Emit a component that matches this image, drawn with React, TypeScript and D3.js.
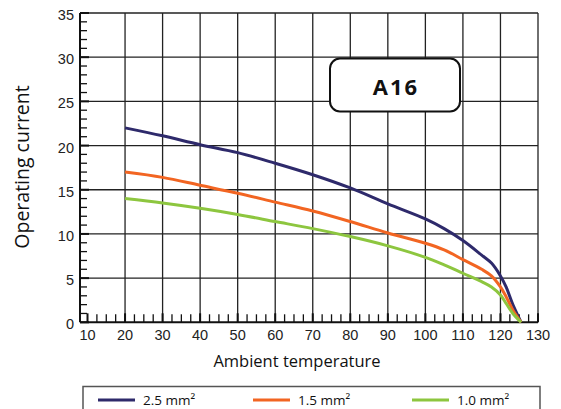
import React from "react";
import * as d3 from "d3";

const temps = [20, 30, 40, 50, 60, 70, 80, 90, 100, 105, 110, 115, 117.6, 120, 121.5, 123.3, 125.5];
const vals25 = [22, 21.1, 20.1, 19.2, 18.0, 16.7, 15.2, 13.4, 11.7, 10.6, 9.25, 7.6, 6.7, 5.25, 4.0, 2.0, 0];
const vals15 = [17, 16.4, 15.5, 14.6, 13.6, 12.6, 11.4, 10.1, 8.95, 8.2, 7.1, 6.0, 5.25, 4.0, 2.9, 1.4, 0];
const vals10 = [14, 13.5, 12.9, 12.2, 11.4, 10.6, 9.7, 8.65, 7.35, 6.5, 5.55, 4.6, 4.0, 3.1, 2.15, 1.0, 0];

const seriesNames = ["2.5 mm²", "1.5 mm²", "1.0 mm²"];
const seriesColors = ["#2e2a6b", "#f26522", "#8dc63f"];
const xTicks = [10, 20, 30, 40, 50, 60, 70, 80, 90, 100, 110, 120, 130];
const yTicks = [0, 5, 10, 15, 20, 25, 30, 35];
const badge = "A16";

export default function App() {
  const x = d3.scaleLinear().domain([8, 130]).range([80, 538]);
  const y = d3.scaleLinear().domain([0, 35]).range([322.3, 13]);
  const line = d3
    .line<[number, number]>()
    .x((d) => x(d[0]))
    .y((d) => y(d[1]))
    .curve(d3.curveCatmullRom.alpha(0.5));
  const series = [vals25, vals15, vals10].map((vs) =>
    temps.map((t, i) => [t, vs[i]] as [number, number])
  );
  const xMinor = d3.range(10, 130.01, 2.5);
  const yMinor = d3.range(0, 35.01, 1);
  const legendX = [98, 253, 412];
  const fontTick = "'Liberation Sans', Arial, sans-serif";
  const fontLab = "'Open Sans', 'Noto Sans', sans-serif";

  return (
    <svg
      width={561}
      height={409}
      style={{ position: "absolute", left: 0, top: 0, background: "#fff" }}
    >
      {/* grid */}
      {xTicks.filter((t) => t >= 20).map((t) => (
        <line key={"gx" + t} x1={x(t)} x2={x(t)} y1={y(35)} y2={y(0)} stroke="#222" strokeWidth={1.3} />
      ))}
      {yTicks.filter((t) => t > 0).map((t) => (
        <line key={"gy" + t} x1={x(8)} x2={x(130)} y1={y(t)} y2={y(t)} stroke="#222" strokeWidth={1.3} />
      ))}
      {/* minor ticks */}
      {xMinor.map((t) => (
        <line key={"mx" + t} x1={x(t)} x2={x(t)} y1={y(0)} y2={y(0) - (t % 10 === 0 ? 9 : 8)} stroke="#111" strokeWidth={t % 10 === 0 ? 2 : 1.3} />
      ))}
      {yMinor.map((t) => (
        <line key={"my" + t} x1={x(8)} x2={x(8) + (t % 5 === 0 ? 9 : 7)} y1={y(t)} y2={y(t)} stroke="#111" strokeWidth={t % 5 === 0 ? 2 : 1.3} />
      ))}
      {/* axes */}
      <line x1={x(8)} x2={x(8)} y1={y(35)} y2={y(0)} stroke="#111" strokeWidth={2} />
      <line x1={x(8)} x2={x(130)} y1={y(0)} y2={y(0)} stroke="#111" strokeWidth={2} />
      {/* tick labels */}
      {yTicks.map((t) => (
        <text key={"ty" + t} x={74} y={y(t) + 7} textAnchor="end" fontFamily={fontTick} fontSize={14.5} fill="#222">
          {t}
        </text>
      ))}
      {xTicks.map((t) => (
        <text key={"tx" + t} x={x(t)} y={340} textAnchor="middle" fontFamily={fontTick} fontSize={14.5} fill="#222">
          {t}
        </text>
      ))}
      {/* series */}
      {series.map((s, i) => (
        <path key={"s" + i} d={line(s) || ""} fill="none" stroke={seriesColors[i]} strokeWidth={3} strokeLinejoin="round" />
      ))}
      {/* badge */}
      <rect x={330} y={58.5} width={130} height={53} rx={10} fill="#fff" stroke="#111" strokeWidth={2} />
      <text x={396} y={95} textAnchor="middle" fontFamily={fontLab} fontWeight="bold" fontSize={22} letterSpacing={2} fill="#111">
        {badge}
      </text>
      {/* axis titles */}
      <text transform="translate(29,167) rotate(-90)" textAnchor="middle" fontFamily={fontLab} fontSize={19.5} fill="#111">
        Operating current
      </text>
      <text x={297} y={367} textAnchor="middle" fontFamily={fontLab} fontSize={16.5} fill="#111">
        Ambient temperature
      </text>
      {/* legend */}
      <rect x={83} y={386.5} width={457} height={40} fill="#fff" stroke="#555" strokeWidth={1.5} />
      {seriesNames.map((n, i) => (
        <g key={"lg" + i}>
          <line x1={legendX[i]} x2={legendX[i] + 37} y1={400} y2={400} stroke={seriesColors[i]} strokeWidth={3} />
          <text x={legendX[i] + 45} y={405} fontFamily={fontLab} fontSize={13.5} fill="#111">
            {n}
          </text>
        </g>
      ))}
    </svg>
  );
}
